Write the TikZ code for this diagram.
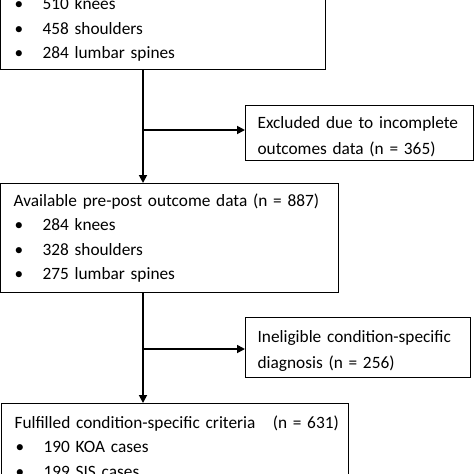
\documentclass[tikz,border=0pt]{standalone}
\usepackage{fontspec}
\setmainfont{Carlito}
\usepackage{tikz}
\usetikzlibrary{positioning,arrows.meta}

\newcommand{\bul}[1]{\makebox[29pt][l]{\hspace{1pt}\textbullet}#1}
\newcommand{\oneline}[1]{\mbox{#1}}

\begin{document}
\begin{tikzpicture}[
  x=1pt, y=1pt,
  box/.style={draw, line width=1.2pt, align=left, inner xsep=13pt, inner ysep=6pt,
              font=\fontsize{17.3}{24.5}\selectfont, anchor=north west},
  side/.style={box, inner xsep=12pt, inner ysep=3pt, font=\fontsize{17.3}{26}\selectfont},
  arr/.style={-{Triangle[length=8pt,width=8pt]}, line width=1.7pt}]
\path[use as bounding box, clip] (0,0) rectangle (474,-474);
\fill[white] (0,0) rectangle (474,-474);
% main column
\node[box, anchor=south west, text width=299pt, inner ysep=8pt] (all) at (0,-70)
  {\bul{510 knees}\\\bul{458 shoulders}\\\bul{284 lumbar spines}};
\node[box, text width=312pt, minimum height=109pt] (avail) at (0,-183)
  {\oneline{Available pre-post outcome data (n = 887)}\\\bul{284 knees}\\\bul{328 shoulders}\\\bul{275 lumbar spines}};
\node[box, text width=321pt, inner ysep=12pt] (final) at (1,-403)
  {\oneline{Fulfilled condition-specific criteria \ \ (n = 631)}\\\bul{190 KOA cases}\\\bul{199 SIS cases}};
% exclusions
\node[side, text width=204pt, minimum height=55pt] (excl) at (245,-105)
  {\rule{0pt}{19pt}\oneline{Excluded due to incomplete}\\\oneline{outcomes data (n = 365)}};
\node[side, text width=201pt, minimum height=60pt] (inel) at (245,-317)
  {\rule{0pt}{19pt}\oneline{Ineligible condition-specific}\\\oneline{diagnosis (n = 256)}};
% connectors
\coordinate (j1) at (143,-130);
\coordinate (j2) at (143,-349);
\draw[arr] (j1 |- all.south) -- (j1 |- avail.north);
\draw[arr] (j1) -- (j1 -| excl.west);
\draw[arr] (j2 |- avail.south) -- (j2 |- final.north);
\draw[arr] (j2) -- (j2 -| inel.west);
\end{tikzpicture}
\end{document}
